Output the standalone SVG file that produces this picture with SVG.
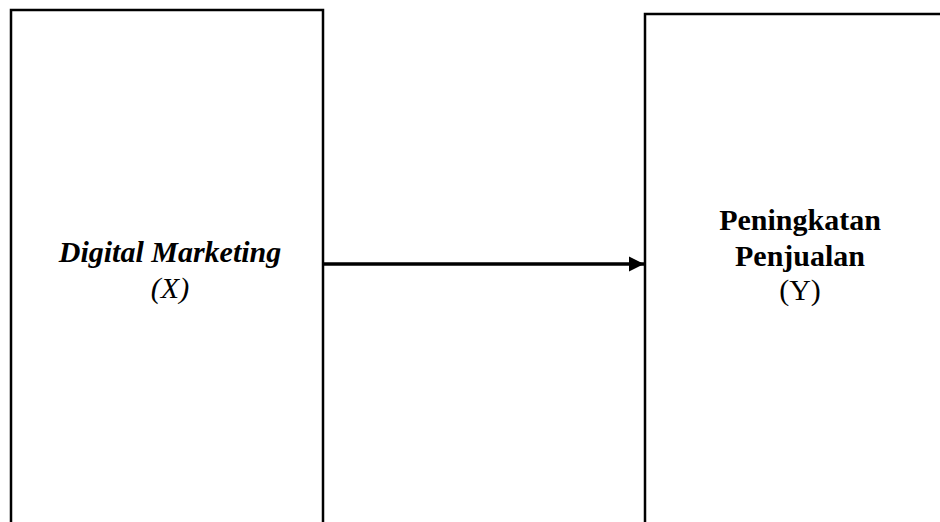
<svg xmlns="http://www.w3.org/2000/svg" width="940" height="522" viewBox="0 0 940 522">
<style>
.box{fill:#fff;stroke:#000;stroke-width:2.5}
.t{font-family:"Liberation Serif","Times New Roman",serif;font-size:30px;fill:#000;text-anchor:middle}
.b{font-weight:bold}
.i{font-style:italic}
.conn{stroke:#000;stroke-width:3.5;fill:none}
</style>
<defs>
<marker id="ah" markerUnits="userSpaceOnUse" markerWidth="16" markerHeight="16" refX="15" refY="8" orient="auto">
<path d="M0,0.5 L15,8 L0,15.5 Z" fill="#000"/>
</marker>
</defs>
<rect width="940" height="522" fill="#fff"/>
<g id="node-x">
<rect class="box" x="11" y="10" width="312" height="530"/>
<text class="t b i" x="170" y="262">Digital Marketing</text>
<text class="t i" x="170" y="298">(X)</text>
</g>
<g id="node-y">
<rect class="box" x="645" y="14" width="320" height="530"/>
<text class="t b" x="800" y="230">Peningkatan</text>
<text class="t b" x="800" y="266">Penjualan</text>
<text class="t" x="800" y="300">(Y)</text>
</g>
<g id="connectors">
<line class="conn" x1="323" y1="264" x2="644" y2="264" marker-end="url(#ah)"/>
</g>
</svg>
